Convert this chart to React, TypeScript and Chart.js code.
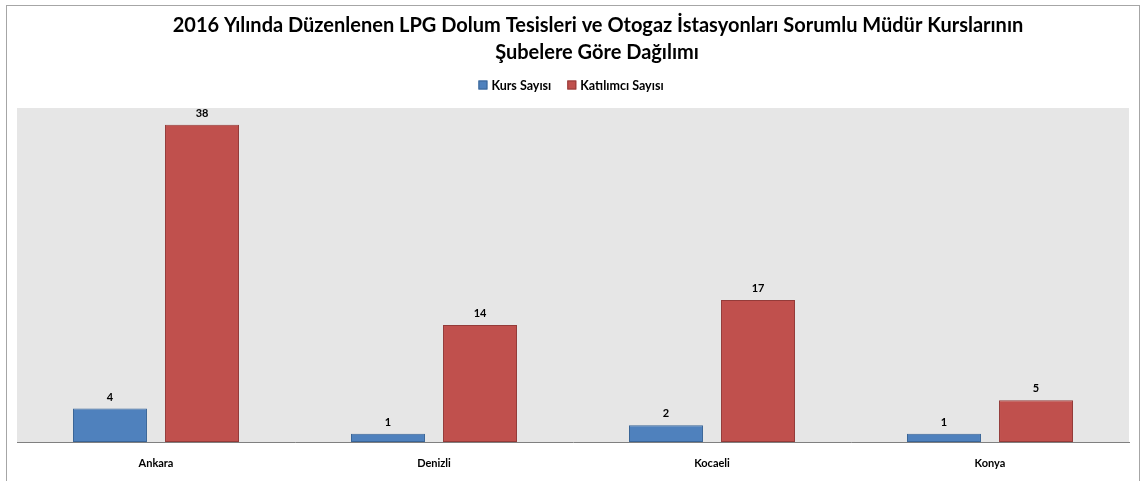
import React, { useEffect, useRef } from "react";
import { Chart, registerables } from "chart.js";

Chart.register(...registerables);

const categories = ["Ankara", "Denizli", "Kocaeli", "Konya"];
const kursSayisi = [4, 1, 2, 1];
const katilimciSayisi = [38, 14, 17, 5];
const seriesNames = ["Kurs Sayısı", "Katılımcı Sayısı"];
const seriesColors = ["#4F81BD", "#C0504D"];
const seriesBorders = ["#3A6597", "#943B39"];
const titleLines = [
  "2016 Yılında Düzenlenen LPG Dolum Tesisleri ve Otogaz İstasyonları Sorumlu Müdür Kurslarının",
  "Şubelere Göre Dağılımı",
];

const FONT = "Lato, 'Open Sans', sans-serif";

const plotBg = {
  id: "plotBg",
  beforeDatasetsDraw(chart: any) {
    const { ctx, chartArea } = chart;
    ctx.save();
    ctx.fillStyle = "#E6E6E6";
    ctx.fillRect(chartArea.left, chartArea.top, chartArea.right - chartArea.left, chartArea.bottom - chartArea.top);
    ctx.restore();
  },
};

const titleAndLegend = {
  id: "titleAndLegend",
  afterDraw(chart: any) {
    const { ctx } = chart;
    ctx.save();
    // title
    ctx.font = `bold 20px ${FONT}`;
    ctx.fillStyle = "#000";
    ctx.textAlign = "center";
    ctx.textBaseline = "middle";
    ctx.fillText(titleLines[0], 598, 26);
    ctx.fillText(titleLines[1], 597, 53);
    // legend
    ctx.font = `bold 12.5px ${FONT}`;
    const box = 9;
    const gapBoxText = 4;
    const gapItems = 16;
    const widths = chart.data.datasets.map((d: any) => ctx.measureText(d.label).width);
    const total = widths.reduce((a: number, w: number) => a + box + gapBoxText + w, 0) + gapItems * (widths.length - 1);
    let x = 571 - total / 2;
    const cy = 85;
    ctx.textAlign = "left";
    chart.data.datasets.forEach((d: any, i: number) => {
      ctx.fillStyle = d.backgroundColor;
      ctx.fillRect(x, cy - box / 2, box, box);
      ctx.strokeStyle = d.borderColor;
      ctx.lineWidth = 1;
      ctx.strokeRect(x + 0.5, cy - box / 2 + 0.5, box - 1, box - 1);
      ctx.fillStyle = "#000";
      ctx.fillText(d.label, x + box + gapBoxText, cy + 0.5);
      x += box + gapBoxText + widths[i] + gapItems;
    });
    ctx.restore();
  },
};

const valueLabels = {
  id: "valueLabels",
  afterDatasetsDraw(chart: any) {
    const { ctx } = chart;
    ctx.save();
    ctx.font = `bold 11px ${FONT}`;
    ctx.fillStyle = "#000";
    ctx.textAlign = "center";
    ctx.textBaseline = "bottom";
    chart.data.datasets.forEach((ds: any, i: number) => {
      const meta = chart.getDatasetMeta(i);
      meta.data.forEach((bar: any, j: number) => {
        ctx.fillText(String(ds.data[j]), bar.x, bar.y - 6);
      });
    });
    ctx.restore();
  },
};

export default function App() {
  const ref = useRef<HTMLCanvasElement>(null);
  useEffect(() => {
    if (!ref.current) return;
    const chart = new Chart(ref.current, {
      type: "bar",
      data: {
        labels: categories,
        datasets: [
          {
            label: seriesNames[0],
            data: kursSayisi,
            backgroundColor: seriesColors[0],
            borderColor: seriesBorders[0],
            borderWidth: 1,
            borderSkipped: false,
            categoryPercentage: 0.662,
            barPercentage: 0.804,
          },
          {
            label: seriesNames[1],
            data: katilimciSayisi,
            backgroundColor: seriesColors[1],
            borderColor: seriesBorders[1],
            borderWidth: 1,
            borderSkipped: false,
            categoryPercentage: 0.662,
            barPercentage: 0.804,
          },
        ],
      },
      options: {
        animation: false,
        responsive: false,
        layout: { padding: { left: 17, right: 13, top: 108, bottom: 0 } },
        plugins: {
          title: { display: false },
          legend: { display: false },
          tooltip: { enabled: false },
        },
        scales: {
          x: {
            grid: { display: false, drawTicks: false },
            border: { display: true, color: "#808080", width: 1 },
            ticks: { color: "#000", padding: 15, font: { family: FONT, size: 11, weight: "bold" } },
            afterFit: (s: any) => {
              s.height = 39;
            },
          },
          y: {
            display: false,
            min: 0,
            max: 40,
          },
        },
      },
      plugins: [plotBg, valueLabels, titleAndLegend],
    });
    return () => chart.destroy();
  }, []);

  return (
    <div style={{ position: "fixed", left: 0, top: 0, width: 1142, height: 481, background: "#fff" }}>
      <div
        style={{
          position: "absolute",
          left: 6,
          top: 5,
          width: 1134,
          height: 480,
          borderTop: "1px solid #a6a6a6",
          borderLeft: "1px solid #a6a6a6",
          borderRight: "1px solid #a6a6a6",
          boxSizing: "border-box",
        }}
      />
      <canvas ref={ref} width={1142} height={481} style={{ position: "absolute", left: 0, top: 0 }} />
    </div>
  );
}
